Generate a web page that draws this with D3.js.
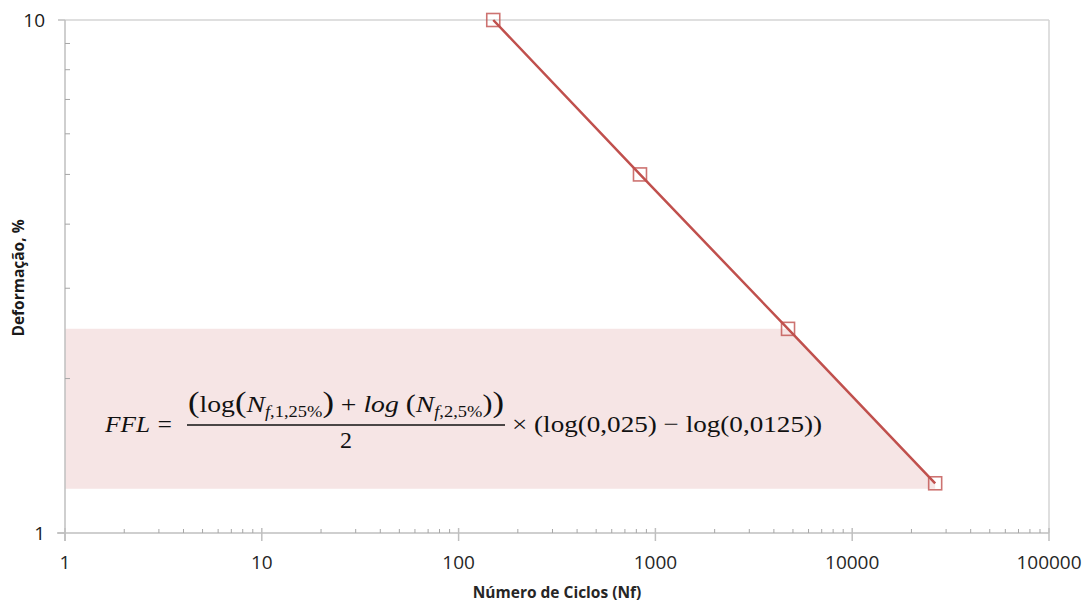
<!DOCTYPE html>
<html>
<head>
<meta charset="utf-8">
<script src="https://cdn.jsdelivr.net/npm/d3@7"></script>
<style>
  body { margin: 0; background: #fff; }
  svg { display: block; }
</style>
</head>
<body>
<svg></svg>
<script>
// values
var cycles = [150, 835, 4720, 26400];
var strain = [10, 5, 2.5, 1.25];
var xTicks = [1, 10, 100, 1000, 10000, 100000];
var yTicks = [1, 10];
var band = [2.5, 1.22];

var width = 1088, height = 606;
var margin = { left: 65, right: 39, top: 20, bottom: 73 };
var red = "#c0504d";
var font = "'Open Sans', sans-serif";

var svg = d3.select("svg")
  .attr("width", width)
  .attr("height", height);

var x = d3.scaleLog()
  .domain([1, 100000])
  .range([margin.left, width - margin.right]);

var y = d3.scaleLog()
  .domain([1, 10])
  .range([height - margin.bottom, margin.top]);

// minor tick values, 2..9 of each decade
var xMinor = [];
for (var d = 1; d < 100000; d *= 10)
  for (var k = 2; k < 10; k++) xMinor.push(d * k);
var yMinor = [2, 3, 4, 5, 6, 7, 8, 9];

// shaded zone between 2,5 % and 1,25 %
var bandPts = [
  [x(1), y(band[0])],
  [x(cycles[2]), y(band[0])],
  [x(cycles[3]), y(strain[3])],
  [x(cycles[3]), y(band[1])],
  [x(1), y(band[1])]
];
svg.append("polygon")
  .attr("points", bandPts.map(p => p.join(",")).join(" "))
  .attr("fill", "#f6e5e5");

// top and right border lines
svg.append("line")
  .attr("x1", x(1)).attr("x2", x(100000))
  .attr("y1", y(10)).attr("y2", y(10))
  .attr("stroke", "#d4d4d4").attr("stroke-width", 1.5);
svg.append("line")
  .attr("x1", x(100000)).attr("x2", x(100000))
  .attr("y1", y(10)).attr("y2", y(1))
  .attr("stroke", "#d4d4d4").attr("stroke-width", 1.5);

// x axis
var xAxis = svg.append("g")
  .attr("transform", "translate(0," + y(1) + ")");
xAxis.append("line")
  .attr("x1", x(1) - 8).attr("x2", x(100000))
  .attr("stroke", "#bfbfbf").attr("stroke-width", 1.5);
xAxis.selectAll(".minor")
  .data(xMinor)
  .enter().append("line")
  .attr("x1", d => x(d)).attr("x2", d => x(d))
  .attr("y1", -4).attr("y2", 0)
  .attr("stroke", "#a6a6a6");
xAxis.selectAll(".major")
  .data(xTicks)
  .enter().append("line")
  .attr("x1", d => x(d)).attr("x2", d => x(d))
  .attr("y1", -5).attr("y2", 8)
  .attr("stroke", "#bfbfbf").attr("stroke-width", 1.5);
xAxis.selectAll("text")
  .data(xTicks)
  .enter().append("text")
  .attr("x", d => x(d))
  .attr("y", 36)
  .attr("text-anchor", "middle")
  .attr("font-family", font)
  .attr("font-size", "19px")
  .attr("fill", "#262626")
  .text(d => d);

// y axis
var yAxis = svg.append("g")
  .attr("transform", "translate(" + x(1) + ",0)");
yAxis.append("line")
  .attr("y1", y(10)).attr("y2", y(1) + 8)
  .attr("stroke", "#bfbfbf").attr("stroke-width", 1.5);
yAxis.selectAll(".minor")
  .data(yMinor)
  .enter().append("line")
  .attr("y1", d => y(d)).attr("y2", d => y(d))
  .attr("x1", 0).attr("x2", 5)
  .attr("stroke", "#a6a6a6");
yAxis.selectAll(".major")
  .data(yTicks)
  .enter().append("line")
  .attr("y1", d => y(d)).attr("y2", d => y(d))
  .attr("x1", -7).attr("x2", 0)
  .attr("stroke", "#bfbfbf").attr("stroke-width", 1.5);
yAxis.selectAll("text")
  .data(yTicks)
  .enter().append("text")
  .attr("x", -20)
  .attr("y", d => y(d))
  .attr("dy", "0.38em")
  .attr("text-anchor", "end")
  .attr("font-family", font)
  .attr("font-size", "19px")
  .attr("fill", "#1a1a1a")
  .text(d => d);

// axis titles
svg.append("text")
  .attr("x", 557).attr("y", 598)
  .attr("text-anchor", "middle")
  .attr("font-family", font)
  .attr("font-weight", "bold")
  .attr("font-size", "15.5px")
  .attr("fill", "#262626")
  .text("Número de Ciclos (Nf)");
svg.append("text")
  .attr("transform", "translate(24,278)rotate(-90)")
  .attr("text-anchor", "middle")
  .attr("font-family", font)
  .attr("font-weight", "bold")
  .attr("font-size", "15.5px")
  .attr("fill", "#1a1a1a")
  .text("Deformação, %");

// series line and markers
var pts = cycles.map((c, i) => [c, strain[i]]);
svg.append("path")
  .datum(pts)
  .attr("d", d3.line().x(d => x(d[0])).y(d => y(d[1])))
  .attr("fill", "none")
  .attr("stroke", red)
  .attr("stroke-width", 2.5);
svg.selectAll(".marker")
  .data(pts)
  .enter().append("rect")
  .attr("x", d => x(d[0]) - 6.5)
  .attr("y", d => y(d[1]) - 6.5)
  .attr("width", 13).attr("height", 13)
  .attr("fill", "none")
  .attr("stroke", red)
  .attr("stroke-opacity", 0.8)
  .attr("stroke-width", 1.6);

// formula
var math = "'Liberation Serif', 'DejaVu Serif', serif";
var f = svg.append("g")
  .attr("font-family", math)
  .attr("font-size", "24px")
  .attr("fill", "#111");

f.append("text")
  .attr("x", 105).attr("y", 432)
  .attr("textLength", 68)
  .attr("lengthAdjust", "spacingAndGlyphs")
  .attr("font-style", "italic")
  .text("FFL =");

var num = f.append("text")
  .attr("x", 188).attr("y", 412)
  .attr("textLength", 316)
  .attr("lengthAdjust", "spacingAndGlyphs");
num.append("tspan").attr("font-size", "30px").text("(");
num.append("tspan").text("log");
num.append("tspan").attr("font-size", "30px").text("(");
num.append("tspan").attr("font-style", "italic").text("N");
num.append("tspan").attr("font-size", "16px").attr("dy", 5).attr("font-style", "italic").text("f");
num.append("tspan").attr("font-size", "16px").text(",1,25%");
num.append("tspan").attr("font-size", "30px").attr("dy", -5).text(")");
num.append("tspan").text(" + ");
num.append("tspan").attr("font-style", "italic").text("log ");
num.append("tspan").attr("font-size", "26px").text("(");
num.append("tspan").attr("font-style", "italic").text("N");
num.append("tspan").attr("font-size", "16px").attr("dy", 5).attr("font-style", "italic").text("f");
num.append("tspan").attr("font-size", "16px").text(",2,5%");
num.append("tspan").attr("font-size", "26px").attr("dy", -5).text(")");
num.append("tspan").attr("font-size", "30px").text(")");

f.append("line")
  .attr("x1", 187).attr("x2", 505)
  .attr("y1", 425).attr("y2", 425)
  .attr("stroke", "#111").attr("stroke-width", 1.3);

f.append("text")
  .attr("x", 346).attr("y", 448)
  .attr("text-anchor", "middle")
  .text("2");

f.append("text")
  .attr("x", 512).attr("y", 432)
  .attr("textLength", 310)
  .attr("lengthAdjust", "spacingAndGlyphs")
  .text("× (log(0,025) − log(0,0125))");
</script>
</body>
</html>
